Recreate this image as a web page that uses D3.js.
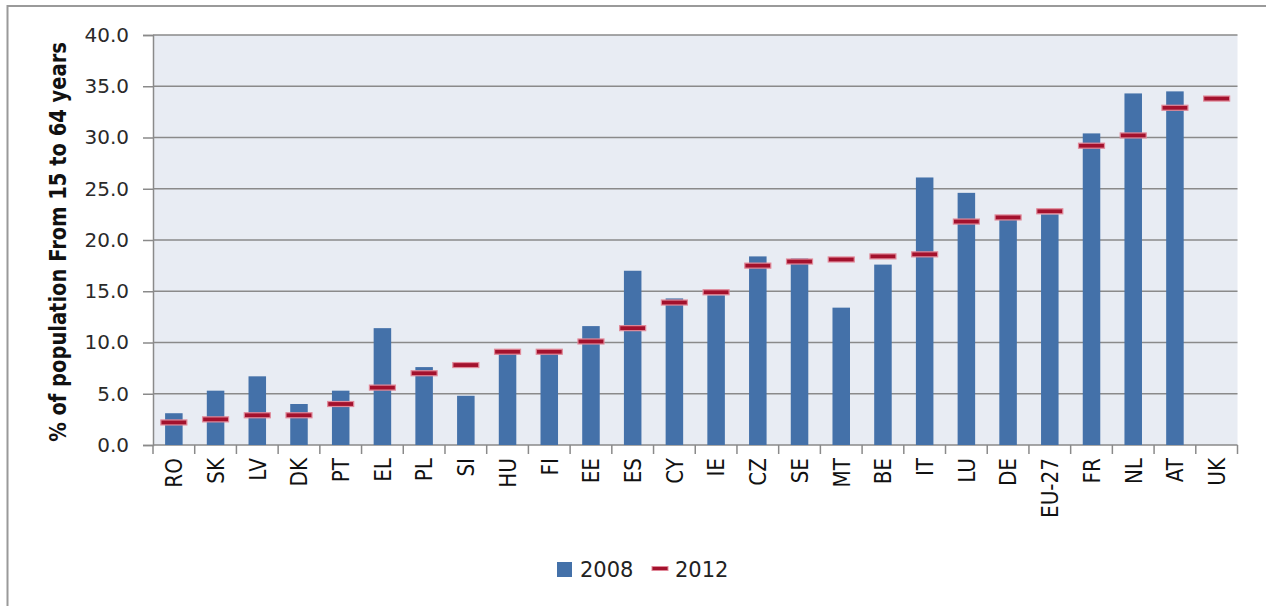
<!DOCTYPE html>
<html lang="en">
  <head>
    <meta charset="UTF-8" />
    <title>Population share 2008 / 2012</title>
    <style>
      body { margin: 0; background: #fff; }
      text { font-family: 'DejaVu Sans', sans-serif; }
    </style>
    <script src="https://d3js.org/d3.v7.min.js"></script>
  </head>
  <body>
    <div class="chart"></div>
    <script>
      // data
      const categories = ['RO', 'SK', 'LV', 'DK', 'PT', 'EL', 'PL', 'SI', 'HU', 'FI', 'EE', 'ES', 'CY',
        'IE', 'CZ', 'SE', 'MT', 'BE', 'IT', 'LU', 'DE', 'EU-27', 'FR', 'NL', 'AT', 'UK']
      const values2008 = [3.1, 5.3, 6.7, 4.0, 5.3, 11.4, 7.6, 4.8, 8.9, 8.9, 11.6, 17.0, 14.3,
        14.6, 18.4, 18.2, 13.4, 17.6, 26.1, 24.6, 22.0, 22.5, 30.4, 34.3, 34.5, null]
      const values2012 = [2.2, 2.5, 2.9, 2.9, 4.0, 5.6, 7.0, 7.8, 9.1, 9.1, 10.1, 11.4, 13.9,
        14.9, 17.5, 17.9, 18.1, 18.4, 18.6, 21.8, 22.2, 22.8, 29.2, 30.2, 32.9, 33.8]
      const yTicks = [0, 5, 10, 15, 20, 25, 30, 35, 40]
      const seriesNames = ['2008', '2012']

      const width = 1266
      const height = 606
      const plot = { left: 153, right: 1237.5, top: 35, bottom: 445 }

      const barColor = '#4471a9'
      const dashFill = '#a3112d'
      const dashStroke = '#e18a9a'

      const svg = d3.select('.chart').append('svg')
        .attr('width', width)
        .attr('height', height)

      // outer frame (only left and top edges visible)
      svg.append('rect')
        .attr('x', 7.5).attr('y', 6)
        .attr('width', width + 20).attr('height', height + 20)
        .attr('fill', '#fff')
        .attr('stroke', '#9a9a9a')
        .attr('stroke-width', 2)

      const x = d3.scaleBand()
        .domain(categories)
        .range([plot.left, plot.right])
        .paddingInner(0.58)
        .paddingOuter(0.29)

      const y = d3.scaleLinear()
        .domain([0, 40])
        .range([plot.bottom, plot.top])

      // plot background
      svg.append('rect')
        .attr('x', plot.left).attr('y', plot.top)
        .attr('width', plot.right - plot.left)
        .attr('height', plot.bottom - plot.top)
        .attr('fill', '#e8ecf3')

      // grid lines
      svg.append('g')
        .selectAll('line')
        .data(yTicks.filter((d) => d > 0))
        .join('line')
        .attr('x1', plot.left).attr('x2', plot.right)
        .attr('y1', (d) => y(d)).attr('y2', (d) => y(d))
        .attr('stroke', '#8a8a8a')
        .attr('stroke-width', 1.5)

      // y axis
      const yAxis = svg.append('g')
        .attr('transform', `translate(${plot.left},0)`)
        .call(d3.axisLeft(y).tickValues(yTicks).tickFormat(d3.format('.1f')).tickSize(10).tickPadding(14))
      yAxis.select('.domain').attr('stroke', '#8a8a8a').attr('stroke-width', 1.5)
      yAxis.selectAll('.tick line').attr('stroke', '#8a8a8a').attr('stroke-width', 1.5)
      yAxis.selectAll('.tick text')
        .attr('font-family', 'DejaVu Sans')
        .attr('font-size', 20)
        .attr('fill', '#2a2a2a')

      // x axis: ticks on band boundaries
      const step = x.step()
      const boundaries = categories.map((c, i) => plot.left + i * step).concat([plot.right])
      svg.append('line')
        .attr('x1', plot.left).attr('x2', plot.right)
        .attr('y1', plot.bottom).attr('y2', plot.bottom)
        .attr('stroke', '#8a8a8a').attr('stroke-width', 1.5)
      svg.append('g')
        .selectAll('line')
        .data(boundaries)
        .join('line')
        .attr('x1', (d) => d).attr('x2', (d) => d)
        .attr('y1', plot.bottom).attr('y2', plot.bottom + 9)
        .attr('stroke', '#8a8a8a').attr('stroke-width', 1.5)

      svg.append('g')
        .selectAll('text')
        .data(categories)
        .join('text')
        .attr('transform', (d) => `translate(${x(d) + x.bandwidth() / 2},${plot.bottom + 13}) scale(1.15,1) rotate(-90)`)
        .attr('text-anchor', 'end')
        .attr('dy', '0.36em')
        .attr('font-size', 20)
        .attr('fill', '#111')
        .text((d) => d)

      // 2008 bars
      svg.append('g')
        .selectAll('rect')
        .data(categories.map((c, i) => ({ c, v: values2008[i] })).filter((d) => d.v != null))
        .join('rect')
        .attr('x', (d) => x(d.c))
        .attr('y', (d) => y(d.v))
        .attr('width', x.bandwidth())
        .attr('height', (d) => y(0) - y(d.v))
        .attr('fill', barColor)

      // 2012 dash markers
      const dashW = 26
      svg.append('g')
        .selectAll('rect')
        .data(categories.map((c, i) => ({ c, v: values2012[i] })))
        .join('rect')
        .attr('x', (d) => x(d.c) + x.bandwidth() / 2 - dashW / 2)
        .attr('y', (d) => y(d.v) - 2.5)
        .attr('width', dashW)
        .attr('height', 5)
        .attr('fill', dashFill)
        .attr('stroke', dashStroke)
        .attr('stroke-width', 1.2)

      // y axis title
      svg.append('text')
        .attr('transform', `translate(58,${(plot.top + plot.bottom) / 2 + 2}) scale(1.15,1) rotate(-90)`)
        .attr('text-anchor', 'middle')
        .attr('dy', '0.36em')
        .attr('font-size', 19.5)
        .attr('font-weight', 'bold')
        .attr('fill', '#111')
        .text('% of population From 15 to 64 years')

      // legend
      const legend = svg.append('g')
      legend.append('rect')
        .attr('x', 557).attr('y', 562).attr('width', 15).attr('height', 15)
        .attr('fill', barColor)
      legend.append('text')
        .attr('x', 580).attr('y', 577)
        .attr('font-size', 21).attr('fill', '#222')
        .text(seriesNames[0])
      legend.append('rect')
        .attr('x', 652).attr('y', 566.5).attr('width', 16).attr('height', 4)
        .attr('fill', dashFill).attr('stroke', dashStroke).attr('stroke-width', 1)
      legend.append('text')
        .attr('x', 675).attr('y', 577)
        .attr('font-size', 21).attr('fill', '#222')
        .text(seriesNames[1])
    </script>
  </body>
</html>
